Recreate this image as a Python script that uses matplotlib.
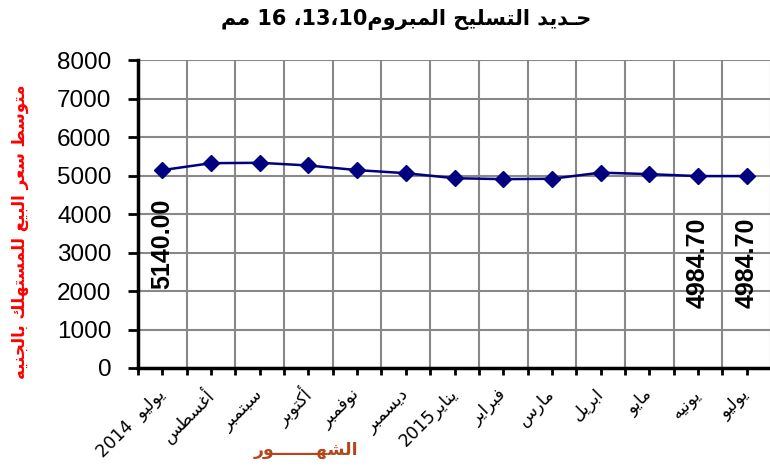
import re
import matplotlib
matplotlib.use("Agg")
import matplotlib.pyplot as plt

# monthly average consumer price (EGP)
months = ["يوليو  2014", "أغسطس", "سبتمبر", "أكتوبر", "نوفمبر", "ديسمبر",
          "يناير2015", "فبراير", "مارس", "ابريل", "مايو", "يونيه", "يوليو"]
prices = [5140, 5320, 5330, 5260, 5140, 5060, 4930, 4905, 4915, 5075, 5035,
          4984.7, 4984.7]
labelled = [0, 11, 12]

title = "حـديد التسليح المبروم10،13، 16 مم"
ylabel = "متوسط سعر البيع للمستهلك بالجنيه"
xlabel = "الشهـــــــور"

# matplotlib has no arabic shaping, so pick the presentation forms by hand
# (isolated, final, initial, medial)
FORMS = {
    'ا': ('\uFE8D', '\uFE8E', None, None),
    'أ': ('\uFE83', '\uFE84', None, None),
    'ب': ('\uFE8F', '\uFE90', '\uFE91', '\uFE92'),
    'ت': ('\uFE95', '\uFE96', '\uFE97', '\uFE98'),
    'ج': ('\uFE9D', '\uFE9E', '\uFE9F', '\uFEA0'),
    'ح': ('\uFEA1', '\uFEA2', '\uFEA3', '\uFEA4'),
    'د': ('\uFEA9', '\uFEAA', None, None),
    'ر': ('\uFEAD', '\uFEAE', None, None),
    'س': ('\uFEB1', '\uFEB2', '\uFEB3', '\uFEB4'),
    'ش': ('\uFEB5', '\uFEB6', '\uFEB7', '\uFEB8'),
    'ط': ('\uFEC1', '\uFEC2', '\uFEC3', '\uFEC4'),
    'ع': ('\uFEC9', '\uFECA', '\uFECB', '\uFECC'),
    'غ': ('\uFECD', '\uFECE', '\uFECF', '\uFED0'),
    'ف': ('\uFED1', '\uFED2', '\uFED3', '\uFED4'),
    'ك': ('\uFED9', '\uFEDA', '\uFEDB', '\uFEDC'),
    'ل': ('\uFEDD', '\uFEDE', '\uFEDF', '\uFEE0'),
    'م': ('\uFEE1', '\uFEE2', '\uFEE3', '\uFEE4'),
    'ن': ('\uFEE5', '\uFEE6', '\uFEE7', '\uFEE8'),
    'ه': ('\uFEE9', '\uFEEA', '\uFEEB', '\uFEEC'),
    'و': ('\uFEED', '\uFEEE', None, None),
    'ي': ('\uFEF1', '\uFEF2', '\uFEF3', '\uFEF4'),
}
TATWEEL = 'ـ'
DUAL = {c for c, f in FORMS.items() if f[2]} | {TATWEEL}


def arabic(text):
    out = []
    for i, ch in enumerate(text):
        if ch not in FORMS:
            out.append(ch)
            continue
        prev = text[i - 1] if i > 0 else ''
        nxt = text[i + 1] if i + 1 < len(text) else ''
        jp = prev in DUAL
        jn = FORMS[ch][2] is not None and (nxt in FORMS or nxt == TATWEEL)
        iso, fin, ini, med = FORMS[ch]
        out.append(med if jp and jn else fin if jp else ini if jn else iso)
    # visual order: right to left, but numbers stay left to right
    parts = re.findall(r'[0-9.]+|[^0-9.]', ''.join(out))
    return ''.join(reversed(parts))


plt.rcParams['font.family'] = ['Liberation Sans', 'DejaVu Sans']

fig = plt.figure(figsize=(7.7, 4.7), dpi=100)
ax = fig.add_axes([138 / 770, 1 - 368 / 470, 633 / 770, 308 / 470])

x = list(range(len(prices)))
ax.plot(x, prices, color='#000080', lw=1.8, marker='D', ms=8, zorder=3,
        clip_on=False)

for i in labelled:
    ypos = 3220 if i == 0 else 2730
    ax.text(i, ypos, '%.2f' % prices[i], rotation=90, ha='center',
            va='center', fontsize=18, fontweight='bold')

ax.set_xlim(-0.5, len(prices) - 0.5)
ax.set_ylim(0, 8000)
ax.set_yticks(range(0, 8001, 1000))
ax.set_xticks([i - 0.5 for i in range(len(prices) + 1)])
ax.set_xticklabels([])
ax.set_xticks(x, minor=True)
ax.set_xticklabels([arabic(m) for m in months], minor=True, rotation=45,
                   ha='right', va='center', rotation_mode='anchor',
                   family=['DejaVu Sans'], fontsize=12.5)
ax.tick_params(axis='y', labelsize=17.5, length=7, width=2, direction='out',
               pad=12)
ax.tick_params(axis='x', which='both', length=5, width=2, direction='out',
               pad=12)

ax.grid(True, color='#888888', lw=1.5)
ax.set_axisbelow(True)
for s in ['top', 'right']:
    ax.spines[s].set_visible(False)
for s in ['left', 'bottom']:
    ax.spines[s].set_linewidth(2.5)

fig.text(406 / 770, 1 - 20 / 470, arabic(title), ha='center', va='center',
         fontsize=15, fontweight='bold', family=['DejaVu Sans'])
fig.text(20 / 770, 1 - 232 / 470, arabic(ylabel), rotation=90, ha='center',
         va='center', fontsize=12, fontweight='bold', color='#FF0000',
         family=['DejaVu Sans'])
fig.text(306 / 770, 1 - 450 / 470, arabic(xlabel), ha='center', va='center',
         fontsize=12.5, fontweight='bold', color='#B5451B',
         family=['DejaVu Sans'])

fig.savefig('out.png', dpi=100)
